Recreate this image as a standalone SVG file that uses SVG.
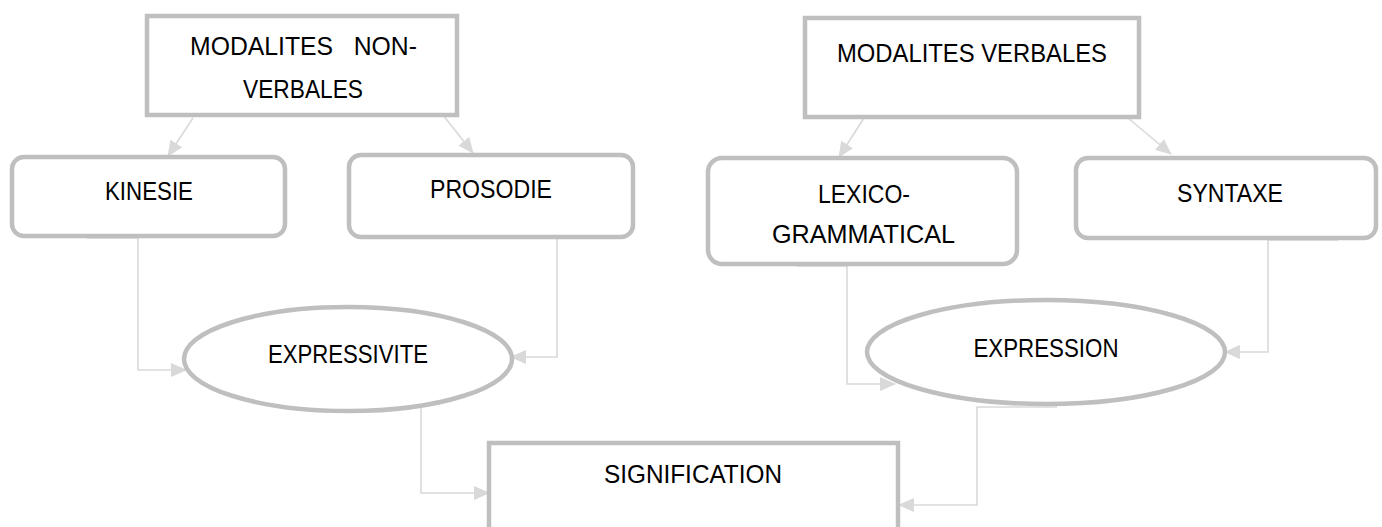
<svg xmlns="http://www.w3.org/2000/svg" width="1382" height="527" viewBox="0 0 1382 527">
<style>
.box{fill:#fff;stroke:#bfbfbf;stroke-width:4.5}
.lbl{font-family:"Liberation Sans",Arial,sans-serif;font-size:25px;fill:#000;text-anchor:middle}
.con{fill:none;stroke:#d9d9d9;stroke-width:1.6}
</style>
<defs>
<marker id="arr" markerUnits="userSpaceOnUse" markerWidth="16" markerHeight="14" refX="15" refY="7" orient="auto">
<path d="M0,0 L16,7 L0,14 Z" fill="#d9d9d9"/>
</marker>
</defs>
<rect width="1382" height="527" fill="#fff"/>
<g id="connectors">
<line class="con" x1="193" y1="118" x2="168" y2="156" marker-end="url(#arr)"/>
<line class="con" x1="443" y1="115" x2="473" y2="153" marker-end="url(#arr)"/>
<line class="con" x1="864" y1="118" x2="839" y2="157" marker-end="url(#arr)"/>
<line class="con" x1="1128" y1="118" x2="1171" y2="154" marker-end="url(#arr)"/>
<path class="con" d="M87,238 H138 V370 H186" marker-end="url(#arr)"/>
<path class="con" d="M603,237 H557 V357 H511" marker-end="url(#arr)"/>
<path class="con" d="M797,266 H847 V384 H895" marker-end="url(#arr)"/>
<path class="con" d="M1338,240 H1268 V352 H1225" marker-end="url(#arr)"/>
<path class="con" d="M351,404 H421 V493 H489" marker-end="url(#arr)"/>
<path class="con" d="M1057,407 H977 V505 H899" marker-end="url(#arr)"/>
</g>
<g id="modalites-non-verbales">
<rect class="box" x="147" y="16" width="310" height="99"/>
<text class="lbl" x="303.5" y="55" textLength="227" lengthAdjust="spacingAndGlyphs" xml:space="preserve">MODALITES   NON-</text>
<text class="lbl" x="303" y="98" textLength="120" lengthAdjust="spacingAndGlyphs">VERBALES</text>
</g>
<g id="modalites-verbales">
<rect class="box" x="805" y="18" width="334" height="99"/>
<text class="lbl" x="972" y="62" textLength="270" lengthAdjust="spacingAndGlyphs">MODALITES VERBALES</text>
</g>
<g id="kinesie">
<rect class="box" x="12" y="157" width="273" height="79" rx="12"/>
<text class="lbl" x="149" y="200" textLength="88" lengthAdjust="spacingAndGlyphs">KINESIE</text>
</g>
<g id="prosodie">
<rect class="box" x="349" y="155" width="284" height="82" rx="12"/>
<text class="lbl" x="491" y="198" textLength="122" lengthAdjust="spacingAndGlyphs">PROSODIE</text>
</g>
<g id="lexico-grammatical">
<rect class="box" x="708" y="158" width="309" height="106" rx="14"/>
<text class="lbl" x="864" y="203" textLength="92" lengthAdjust="spacingAndGlyphs">LEXICO-</text>
<text class="lbl" x="863.5" y="243" textLength="183" lengthAdjust="spacingAndGlyphs">GRAMMATICAL</text>
</g>
<g id="syntaxe">
<rect class="box" x="1076" y="158" width="300" height="80" rx="12"/>
<text class="lbl" x="1230" y="202" textLength="106" lengthAdjust="spacingAndGlyphs">SYNTAXE</text>
</g>
<g id="expressivite">
<ellipse class="box" cx="348" cy="359" rx="164" ry="52"/>
<text class="lbl" x="348" y="363" textLength="160" lengthAdjust="spacingAndGlyphs">EXPRESSIVITE</text>
</g>
<g id="expression">
<ellipse class="box" cx="1046" cy="352" rx="179" ry="52"/>
<text class="lbl" x="1046" y="357" textLength="145" lengthAdjust="spacingAndGlyphs">EXPRESSION</text>
</g>
<g id="signification">
<rect class="box" x="489" y="443" width="409" height="110"/>
<text class="lbl" x="693" y="483" textLength="178" lengthAdjust="spacingAndGlyphs">SIGNIFICATION</text>
</g>
</svg>
